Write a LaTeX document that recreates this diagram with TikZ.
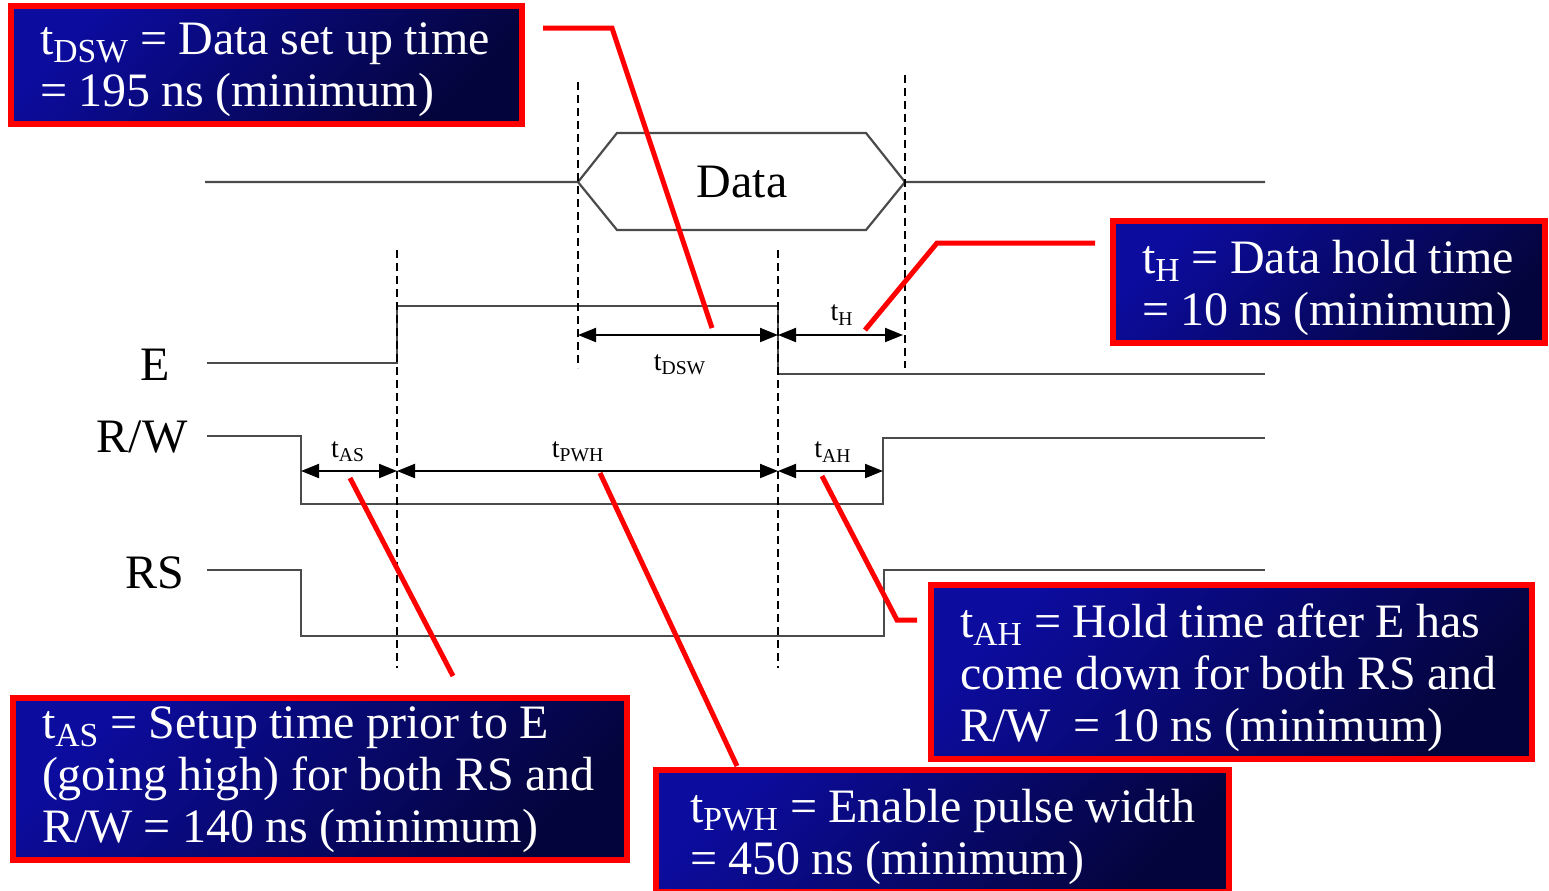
\documentclass[tikz,border=0pt]{standalone}
\usepackage{fontspec}
\setmainfont{Liberation Serif}
\usetikzlibrary{arrows.meta,positioning,calc}
\definecolor{nblue}{RGB}{12,12,158}
\definecolor{nnavy}{RGB}{4,4,60}
\definecolor{sgray}{RGB}{75,75,75}
\newcommand{\tq}[1]{t\textsubscript{#1}}
\newcommand{\lnup}[1][23pt]{\rule{0pt}{#1}}

\begin{document}
\begin{tikzpicture}[x=0.5pt,y=-0.5pt,
  notebox/.style={draw=red,line width=3pt,outer sep=0pt,inner xsep=14.5pt,
    top color=nblue,bottom color=nnavy,shading angle=45,
    text=white,align=left,anchor=north west,
    font=\fontsize{24}{26}\selectfont,
    execute at begin node={\spaceskip=0.235em\relax}},
  sig/.style={sgray,line width=1.1pt,line join=miter},
  guide/.style={black,line width=0.7pt,dash pattern=on 4pt off 2.5pt},
  dim/.style={black,line width=1pt,{Triangle[length=9pt,width=7pt]}-{Triangle[length=9pt,width=7pt]}},
  leader/.style={red,line width=2.5pt},
  siglabel/.style={font=\fontsize{24}{26}\selectfont},
  timelabel/.style={font=\fontsize{14}{16}\selectfont}]
\fill[white] (0,0) rectangle (1549,890);
\useasboundingbox (0,0) rectangle (1549,890);

% data bus
\draw[sig] (205,182) -- (578,182) -- (617,133) -- (866,133) -- (905,182) -- (1265,182);
\draw[sig] (578,182) -- (617,230) -- (866,230) -- (905,182);
\node[siglabel] (data) at (742,182) {Data};

% E, R/W and RS
\draw[sig] (207,363) -- (397,363) -- (397,306) -- (778,306) -- (778,374) -- (1265,374);
\draw[sig] (207,436) -- (301,436) -- (301,504) -- (883,504) -- (883,438) -- (1265,438);
\draw[sig] (207,570) -- (301,570) -- (301,636) -- (884,636) -- (884,570) -- (1265,570);
\node[siglabel] (sigE) at (155,365) {E};
\node[siglabel] (sigRW) at (142,437) {R/W};
\node[siglabel] (sigRS) at (155,573) {RS};

% edge markers
\draw[guide] (397,250) -- (397,668);
\draw[guide] (578,82) -- (578,368);
\draw[guide] (778,250) -- (778,668);
\draw[guide] (905,75) -- (905,368);

% timing intervals
\foreach \nm/\xa/\xb/\yy/\lx/\ly in {AS/301/397/471/348/452, PWH/397/778/471/578/452,
    AH/778/883/471/833/452, DSW/578/778/335/680/365, H/778/903/335/842/315}{
  \coordinate (\nm-l) at (\xa,\yy);
  \coordinate (\nm-r) at (\xb,\yy);
  \draw[dim] (\nm-l) -- (\nm-r);
  \node[timelabel] (lab-\nm) at (\lx,\ly) {\tq{\nm}};
}

% leader ends
\coordinate (pDSW) at (712,328);
\coordinate (pH) at (865,330);
\coordinate (pAS) at (350,478);
\coordinate (pPWH) at (600,473);
\coordinate (pAH) at (822,476);

% notes (one \mbox per line so nothing wraps)
\node[notebox,minimum width=255.5pt,minimum height=57.5pt,text width=226.5pt] (dsw) at (11,6)
  {\lnup[21pt]\mbox{\tq{DSW} = Data set up time}\\\mbox{= 195 ns (minimum)}};
\node[notebox,minimum width=216pt,minimum height=58pt,text width=187pt] (hold) at (1113,221)
  {\lnup\mbox{\tq{H} = Data hold time}\\\mbox{= 10 ns (minimum)}};
\node[notebox,minimum width=307pt,minimum height=76pt,text width=278pt] (as) at (13,698)
  {\lnup[17pt]\mbox{\tq{AS} = Setup time prior to E}\\\mbox{(going high) for both RS and}\\\mbox{R/W = 140 ns (minimum)}};
\node[notebox,minimum width=300.5pt,minimum height=87pt,text width=271.5pt] (ah) at (931,585)
  {\lnup\mbox{\tq{AH} = Hold time after E has}\\\mbox{come down for both RS and}\\\mbox{R/W~ = 10 ns (minimum)}};
\node[notebox,minimum width=286.5pt,minimum height=57.5pt,inner xsep=17pt,text width=252.5pt] (pwh) at (656,770)
  {\lnup\mbox{\tq{PWH} = Enable pulse width}\\\mbox{= 450 ns (minimum)}};

% leaders
\draw[leader] ([shift={(21,22)}]dsw.north east) -- ++(69,0) -- (pDSW);
\draw[leader] ([shift={(-18,22)}]hold.north west) -- ++(-158,0) -- (pH);
\draw[leader] (pAS) -- ([shift={(440,-22)}]as.north west);
\draw[leader] (pPWH) -- ([shift={(81,-4)}]pwh.north west);
\draw[leader] (pAH) -- ([shift={(-34,35)}]ah.north west) -- ([shift={(-14,35)}]ah.north west);
\end{tikzpicture}
\end{document}
